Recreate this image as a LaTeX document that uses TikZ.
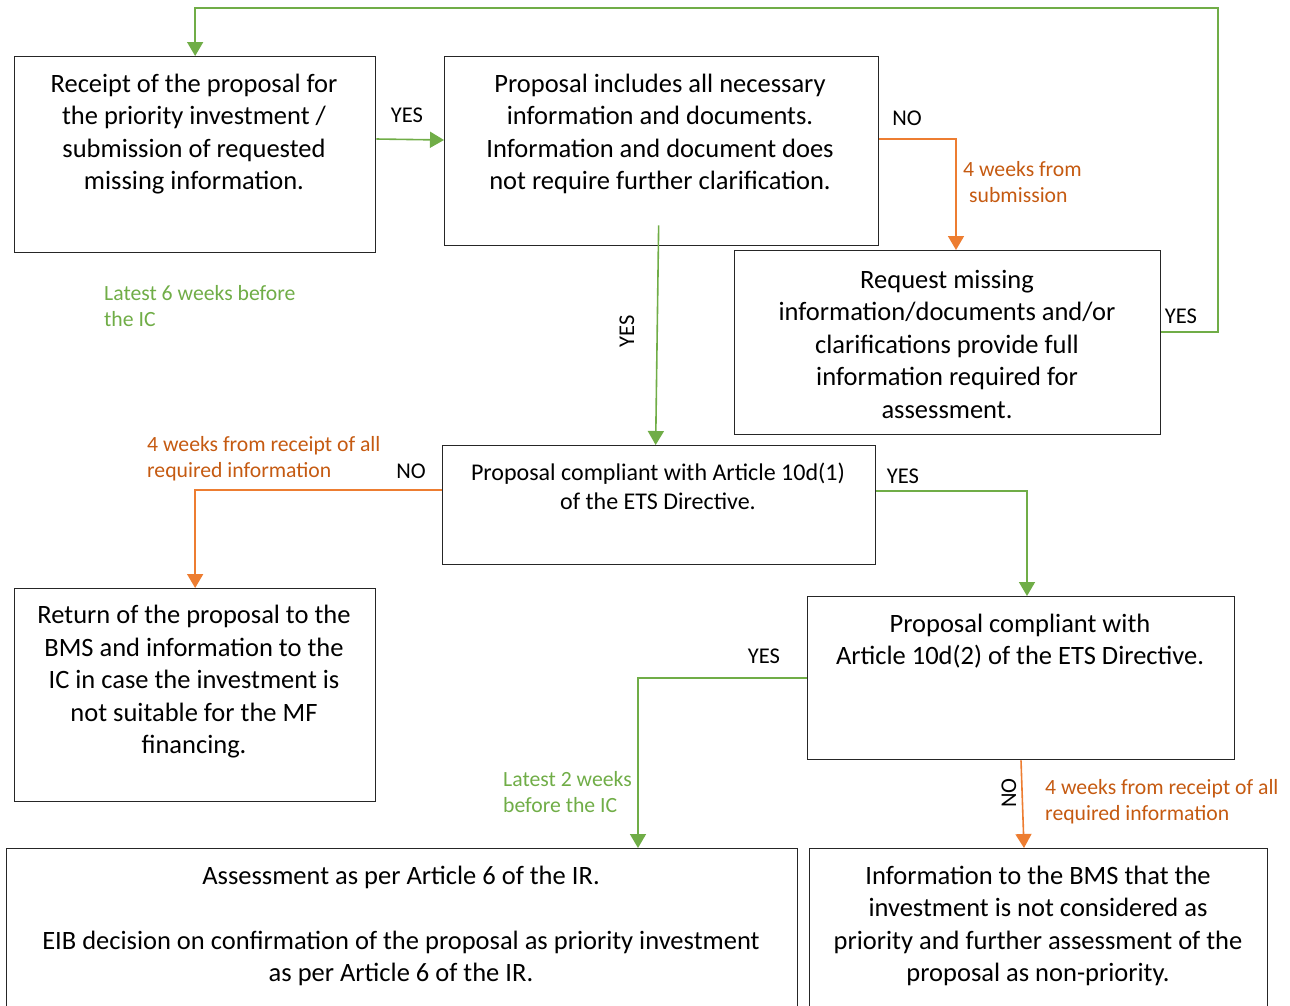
\documentclass[tikz,border=0pt]{standalone}
\usepackage{fontspec}
\setmainfont{Carlito}
\usetikzlibrary{arrows.meta,calc}
\definecolor{gline}{HTML}{70AD47}
\definecolor{oline}{HTML}{ED7D31}
\definecolor{otext}{HTML}{C55A11}
\begin{document}
\begin{tikzpicture}[x=1pt,y=-1pt,
  box/.style={draw=black!85,line width=1.3pt,rectangle,inner sep=0pt,anchor=north west},
  txt/.style={align=center,inner sep=0pt,font=\fontsize{26.5}{32.5}\selectfont},
  txts/.style={align=center,inner sep=0pt,font=\fontsize{24}{29}\selectfont},
  yn/.style={inner sep=0pt,font=\fontsize{22.5}{26}\selectfont},
  gnote/.style={align=left,inner sep=0pt,anchor=west,text=gline,font=\fontsize{21.7}{26}\selectfont},
  onote/.style={align=left,inner sep=0pt,anchor=west,text=otext,font=\fontsize{21.7}{26}\selectfont},
  garr/.style={draw=gline,line width=1.6pt,-{Triangle[width=16pt,length=14pt]}},
  oarr/.style={draw=oline,line width=1.6pt,-{Triangle[width=16pt,length=14pt]}}]
\useasboundingbox (0,0) rectangle (1290,1005);

% boxes
\node[box,minimum width=361,minimum height=196] (A) at (14,56) {};
\node[box,minimum width=434,minimum height=189] (B) at (444,56) {};
\node[box,minimum width=426,minimum height=184] (C) at (734,250) {};
\node[box,minimum width=433,minimum height=119] (D) at (442,445) {};
\node[box,minimum width=361,minimum height=213] (E) at (14,588) {};
\node[box,minimum width=427,minimum height=163] (F) at (807,596) {};
\node[box,minimum width=791,minimum height=200] (G) at (6,848) {};
\node[box,minimum width=458,minimum height=200] (H) at (809,848) {};

% box texts
\node[txt] (At) at (194,134) {Receipt of the proposal for\\the priority investment /\\submission of requested\\missing information.};
\node[txt] (Bt) at (660,134) {Proposal includes all necessary\\information and documents.\\Information and document does\\not require further clarification.};
\node[txt] (Ct) at (947,344) {Request missing\\information/documents and/or\\clarifications provide full\\information required for\\assessment.};
\node[txts] (Dt) at (658,486) {Proposal compliant with Article 10d(1)\\of the ETS Directive.};
\node[txt] (Et) at (194,682) {Return of the proposal to the\\BMS and information to the\\IC in case the investment is\\not suitable for the MF\\financing.};
\node[txt] (Ft) at (1020,641) {Proposal compliant with\\Article 10d(2) of the ETS Directive.};
\node[txt] (Gt) at (401,926) {Assessment as per Article 6 of the IR.\\\mbox{}\\EIB decision on confirmation of the proposal as priority investment\\as per Article 6 of the IR.};
\node[txt] (Ht) at (1038,926) {Information to the BMS that the\\investment is not considered as\\priority and further assessment of the\\proposal as non-priority.};

% connectors
\coordinate (loop) at (1218,8);
\draw[garr] ($(A.north east)+(0,83)$) -- ($(B.north west)+(0,84)$);
\draw[oarr] ($(B.north east)+(0,83)$) -| ($(C.north west)+(222,0)$);
\draw[garr] ($(C.north east)+(0,82)$) -| (loop) -| (A.north);
\draw[garr] ($(B.south)+(-3,-21)$) -- ($(D.north)+(-3.5,0)$);
\draw[oarr] ($(D.north west)+(0,45)$) -| (E.north);
\draw[garr] ($(D.north east)+(0,46)$) -| ($(F.north west)+(220,0)$);
\draw[garr] ($(F.north west)+(0,82)$) -| ($(G.north west)+(632,0)$);
\draw[oarr] ($(F.south west)+(214,0)$) -- ($(H.north west)+(215,0)$);

% yes / no labels
\node[yn] (l1) at (407,115) {YES};
\node[yn] (l2) at (907,118) {NO};
\node[yn] (l3) at (1181,316) {YES};
\node[yn,rotate=90] (l4) at (627,331) {YES};
\node[yn] (l5) at (411,471) {NO};
\node[yn] (l6) at (903,476) {YES};
\node[yn] (l7) at (764,656) {YES};
\node[yn,rotate=90] (l8) at (1009,793) {NO};

% notes
\node[onote] (n1) at (963,182) {4 weeks from\\\hspace*{6pt}submission};
\node[gnote] (n2) at (104,306) {Latest 6 weeks before\\the IC};
\node[onote] (n3) at (147,459) {4 weeks from receipt of all\\required information};
\node[gnote] (n4) at (503,792) {Latest 2 weeks\\before the IC};
\node[onote] (n5) at (1045,802) {4 weeks from receipt of all\\required information};
\end{tikzpicture}
\end{document}
